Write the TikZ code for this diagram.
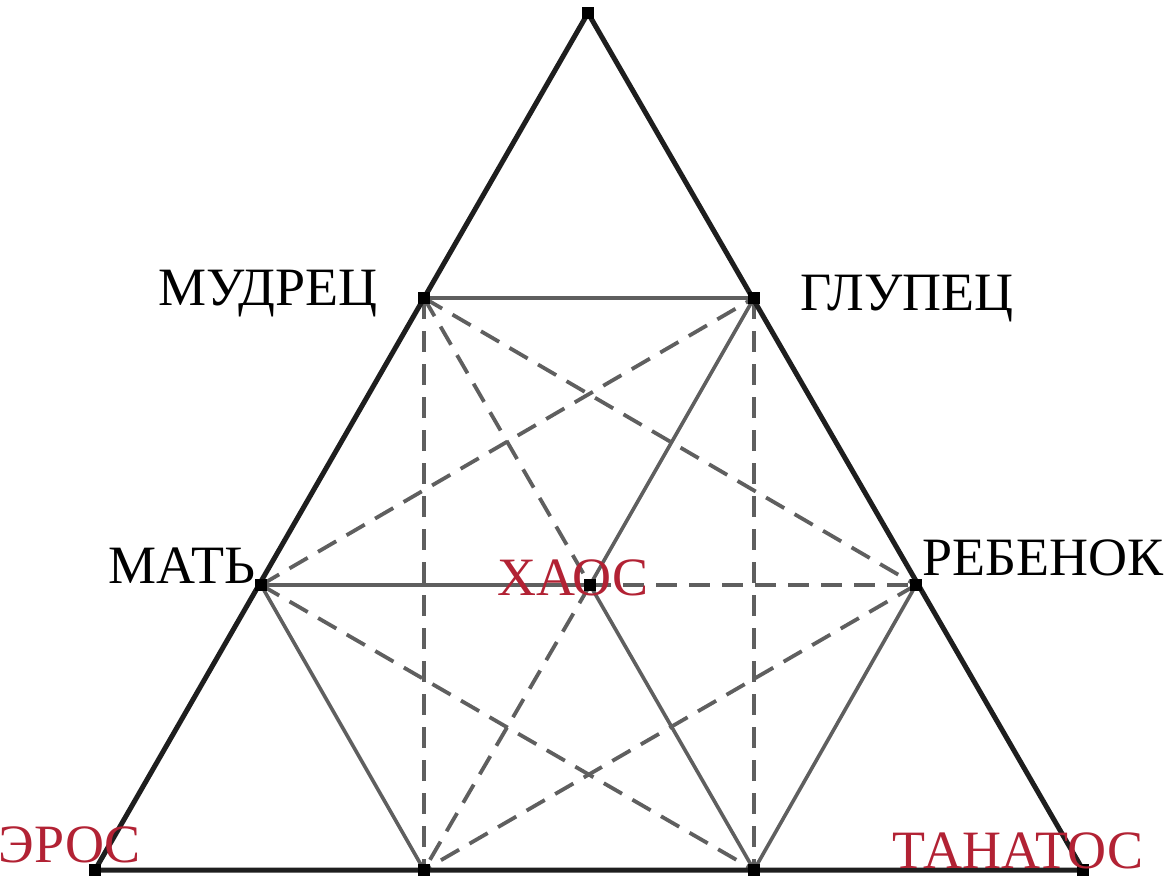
\documentclass[tikz,border=0pt]{standalone}
\usepackage{fontspec}
\setmainfont{Liberation Serif}
\definecolor{chaosred}{RGB}{178,34,52}
\definecolor{outerline}{RGB}{30,30,30}
\definecolor{innerline}{RGB}{95,95,95}
\begin{document}
\begin{tikzpicture}[x=1pt,y=-1pt,
  outeredge/.style={draw=outerline,line width=5pt,line cap=round,line join=round},
  innersolid/.style={draw=innerline,line width=3.6pt},
  innerdash/.style={draw=innerline,line width=3.8pt,dash pattern=on 21pt off 12pt},
  vdot/.style={fill=black,minimum size=12pt,inner sep=0pt,rectangle},
  blacklabel/.style={inner sep=0pt,anchor=base,font=\fontsize{54}{60}\selectfont,text=black},
  redlabel/.style={inner sep=0pt,anchor=base,font=\fontsize{54}{60}\selectfont,text=chaosred}]
\useasboundingbox (0,0) rectangle (1165,883);
\fill[white] (0,0) rectangle (1165,883);
% vertices
\coordinate (T) at (588,13);
\coordinate (E) at (95,870);
\coordinate (Th) at (1083,870);
\coordinate (M) at (424,298);
\coordinate (G) at (754,298);
\coordinate (Ma) at (261,585);
\coordinate (R) at (916,585);
\coordinate (X) at (590,585);
\coordinate (B1) at (424,870);
\coordinate (B2) at (754,870);
% dashed inner lines
\draw[innerdash] (M) -- (B1);
\draw[innerdash] (G) -- (B2);
\draw[innerdash] (Ma) -- (G);
\draw[innerdash] (M) -- (R);
\draw[innerdash] (Ma) -- (B2);
\draw[innerdash] (R) -- (B1);
\draw[innerdash] (M) -- (X);
\draw[innerdash] (X) -- (B1);
\draw[innerdash] (X) -- (R);
% solid inner lines
\draw[innersolid] (M) -- (G);
\draw[innersolid] (Ma) -- (X);
\draw[innersolid] (X) -- (G);
\draw[innersolid] (X) -- (B2);
\draw[innersolid] (Ma) -- (B1);
\draw[innersolid] (R) -- (B2);
% outer triangle
\draw[outeredge] (T) -- (E) -- (Th) -- cycle;
% dots
\foreach \p in {T,E,Th,M,G,Ma,R,X,B1,B2}
  \node[vdot] (d\p) at (\p) {};
% labels
\node[blacklabel] (lM) at (268,305) {МУДРЕЦ};
\node[blacklabel] (lG) at (907,310) {ГЛУПЕЦ};
\node[blacklabel] (lMa) at (182,583) {МАТЬ};
\node[blacklabel] (lR) at (1043,575) {РЕБЕНОК};
\node[redlabel] (lX) at (573,595) {ХАОС};
\node[redlabel] (lE) at (70,862) {ЭРОС};
\node[redlabel] (lTh) at (1018,868) {ТАНАТОС};
\end{tikzpicture}
\end{document}
